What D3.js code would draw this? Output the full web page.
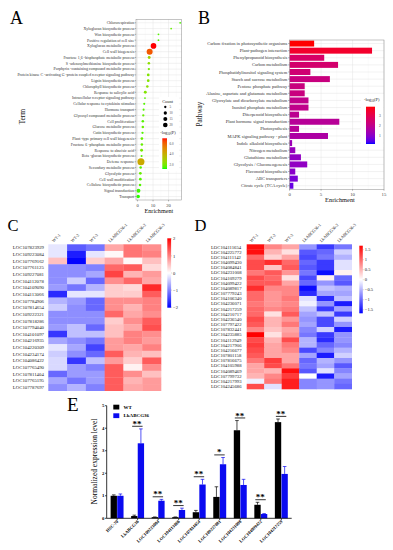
<!DOCTYPE html>
<html>
<head>
<meta charset="utf-8">
<script src="https://cdn.jsdelivr.net/npm/d3@7"></script>
<style>
  body { margin: 0; background: #fff; }
  svg { display: block; font-family: "Liberation Serif", "Times New Roman", serif; }
</style>
</head>
<body>
<svg width="393" height="550"></svg>
<script>
// ---- A: GO enrichment (bubble plot) ----
const goTerms = [
  "Chlororespiration", "Xyloglucan biosynthetic process", "Wax biosynthetic process",
  "Positive regulation of cell size", "Xyloglucan metabolic process", "Cell wall biogenesis",
  "Fructose 1,6 -bisphosphate metabolic process", "S -adenosylmethionine biosynthetic process",
  "Porphyrin -containing compound metabolic process",
  "Protein kinase C -activating G -protein coupled receptor signaling pathway",
  "Lignin biosynthetic process", "Chlorophyll biosynthetic process", "Response to salicylic acid",
  "Intracellular receptor signaling pathway", "Cellular response to cytokinin stimulus",
  "Hormone transport", "Glycosyl compound metabolic process", "Cell proliferation",
  "Glucose metabolic process", "Cutin biosynthetic process", "Plant -type primary cell wall biogenesis",
  "Fructose 6 -phosphate metabolic process", "Response to abscisic acid",
  "Beta -glucan biosynthetic process", "Defense response", "Secondary metabolic process",
  "Glycolytic process", "Cell wall modification", "Cellulose biosynthetic process",
  "Signal transduction", "Transport"
];
const goEnrich = [27.5, 21.7, 13.5, 13.5, 10.3, 7.8, 7.5, 7.3, 7.3, 6.9, 6.9, 6.3, 5.0, 4.8, 4.3, 3.9,
  3.7, 3.4, 3.4, 3.2, 2.8, 2.8, 2.6, 2.6, 2.2, 2.0, 1.8, 1.8, 1.6, 0.6, 0.4];
const goCount = [3, 3, 3, 3, 30, 34, 8, 6, 5, 7, 7, 6, 8, 3, 4, 4, 5, 6, 6, 5, 7, 6, 8, 4, 46, 6, 7, 7, 6, 14, 12];
const goLogP = [1.5, 1.8, 1.6, 1.6, 7.0, 6.2, 2.8, 2.4, 2.0, 2.2, 2.2, 2.4, 2.2, 1.6, 1.6, 1.6, 1.8, 1.6,
  1.8, 1.6, 1.8, 1.8, 2.0, 1.6, 4.2, 1.6, 1.8, 1.6, 1.6, 1.4, 1.3];
const goXTicks = [0, 10, 20];
const goCountBreaks = [5, 10, 15, 20];
const goPBreaks = [6, 4, 2];

// ---- B: KEGG enrichment (bar plot) ----
const keggPaths = [
  "Carbon fixation in photosynthetic organisms", "Plant-pathogen interaction",
  "Phenylpropanoid biosynthesis", "Carbon metabolism", "Phosphatidylinositol signaling system",
  "Starch and sucrose metabolism", "Pentose phosphate pathway",
  "Alanine, aspartate and glutamate metabolism", "Glyoxylate and dicarboxylate metabolism",
  "Inositol phosphate metabolism", "Diterpenoid biosynthesis", "Plant hormone signal transduction",
  "Photosynthesis", "MAPK signaling pathway - plant", "Indole alkaloid biosynthesis",
  "Nitrogen metabolism", "Glutathione metabolism", "Glycolysis / Gluconeogenesis",
  "Flavonoid biosynthesis", "ABC transporters", "Citrate cycle (TCA cycle)"
];
const keggEnrich = [3.9, 13.1, 5.5, 7.7, 3.3, 6.4, 2.4, 2.4, 3.0, 3.0, 1.5, 7.9, 1.5, 6.1, 0.4, 0.9, 1.8, 2.8, 0.9, 1.3, 0.6];
const keggLogP = [3.9, 3.5, 2.6, 2.5, 2.4, 2.2, 2.2, 2.2, 2.0, 2.0, 1.9, 1.8, 1.8, 1.6, 1.3, 1.2, 1.1, 1.1, 1.0, 0.8, 0.6];
const keggXTicks = [0, 5, 10, 15];
const keggPBreaks = [3, 2, 1];

// ---- C / D: heatmaps ----
const sampleNames = ["WT-1", "WT-2", "WT-3", "LkABCG36-1", "LkABCG36-2", "LkABCG36-3"];
const upGenes = ["LOC107823929", "LOC109223084", "LOC107769162", "LOC107761125", "LOC109227081",
  "LOC104112078", "LOC104109090", "LOC104113066", "LOC107784906", "LOC107814654", "LOC109222321",
  "LOC107818286", "LOC107794040", "LOC104101097", "LOC104216935", "LOC104220309", "LOC104234174",
  "LOC104086422", "LOC107765490", "LOC107811404", "LOC107765195", "LOC107787697"];
const upValues = [
  [-0.2, -1.3, -1.1, 0.7, 1.1, 0.9], [-0.2, -1.8, -0.2, 0.05, 1.1, 1.0], [0.5, -2.0, 0.4, 0.7, 0.05, 0.5],
  [-0.9, -0.9, -1.0, 1.2, 1.3, 0.3], [-0.9, -0.9, -0.7, 1.5, 0.6, 0.8], [-0.9, -0.4, -1.2, 0.9, 1.2, 0.7],
  [-0.8, -1.1, -0.6, 0.4, 0.3, 1.7], [-1.7, -0.2, -0.2, 0.4, 0.4, 1.3], [-0.6, -0.8, -1.2, 0.9, 0.9, 1.0],
  [-0.4, -0.9, -1.2, 0.9, 0.6, 1.0], [-0.9, -0.9, -0.9, 1.2, 0.7, 0.9], [-0.9, -0.9, -0.9, 0.4, 0.9, 1.3],
  [-0.8, -0.5, -1.2, 0.5, 0.7, 1.4], [-1.6, -0.5, -0.5, 0.5, 1.0, 0.9], [-0.7, -0.9, -1.1, 0.8, 1.0, 0.8],
  [-0.2, -0.7, -1.5, 0.8, 0.7, 1.0], [-0.4, -0.9, -1.2, 1.3, 0.6, 0.5], [-0.3, -1.6, -0.5, 0.8, 0.4, 1.3],
  [-0.3, -0.8, -1.0, 1.3, 0.1, 0.9], [-1.2, -0.8, -0.8, 1.3, 0.9, 0.5], [-0.7, -1.1, -0.8, 1.3, 0.6, 0.8],
  [-0.9, -0.6, -1.0, 1.3, 0.7, 0.8]
];
const upBreaks = [2, 1, 0, -1, -2];

const downGenes = ["LOC104111654", "LOC104225772", "LOC104111142", "LOC104099430", "LOC104084841",
  "LOC104231008", "LOC104109279", "LOC104099422", "LOC104089817", "LOC107779243", "LOC104106340",
  "LOC104236071", "LOC104217259", "LOC104210717", "LOC104236540", "LOC107797422", "LOC107832441",
  "LOC104235885", "LOC104112949", "LOC104217906", "LOC104216677", "LOC107801158", "LOC107816675",
  "LOC104105988", "LOC104089469", "LOC107799732", "LOC104217993", "LOC104245686"];
const downValues = [
  [1.6, 0.8, 0.6, -0.7, -1.3, -0.9], [1.6, 0.5, 0.2, -1.1, -1.0, -0.3], [1.0, 0.3, 0.6, -1.2, -0.9, -0.5],
  [1.2, 1.4, 1.0, -1.0, -1.3, -0.2], [1.2, 0.4, 1.1, -1.1, -1.3, -0.2], [0.9, 1.1, 0.7, -0.9, -1.6, 0.1],
  [1.2, 1.0, 0.2, -1.2, 0.1, -1.0], [1.1, 1.1, 0.6, -1.0, -0.7, -1.1], [1.4, 0.8, 0.8, -1.6, -0.4, -0.5],
  [1.0, 0.7, 0.8, -1.4, -0.6, -0.6], [1.0, 0.7, 0.9, -0.2, -1.4, -0.4], [0.9, 0.7, 0.8, -0.1, -0.7, -1.5],
  [1.0, 0.8, 0.9, -0.4, -1.3, -0.6], [1.0, 0.2, 1.1, -0.6, -0.4, -1.3], [1.2, 0.5, 0.7, -0.7, -1.2, -0.3],
  [1.1, 0.5, 0.9, -0.6, -1.2, -0.7], [0.8, 0.4, 0.6, -0.8, -0.3, -1.5], [1.7, 0.2, 0.7, -0.9, -1.3, -0.7],
  [1.2, 0.5, 1.2, -0.5, -1.4, -0.7], [1.3, 0.6, 0.9, -0.5, -1.0, -0.8], [1.2, 0.6, 0.8, -1.2, -0.8, -0.5],
  [1.1, 0.6, 0.6, -0.6, -1.5, -0.3], [0.9, 1.3, 0.6, -1.0, -0.5, -0.7], [0.6, 1.2, 0.9, -0.9, -0.6, -1.1],
  [0.6, 0.5, 1.6, -1.1, -0.2, -0.8], [0.5, 0.8, 1.3, 0.0, -1.5, -0.6], [-0.1, 0.9, 1.5, -0.8, -0.7, -0.9],
  [1.2, -0.2, 1.5, -0.8, -0.7, -1.0]
];
const downBreaks = [1.5, 1, 0.5, 0, -0.5, -1, -1.5];

// ---- E: qPCR ----
const qpcrGenes = ["HSC-70", "LkABCG36", "LOC109223084", "LOC104113066", "LOC107814654",
  "LOC109227081", "LOC104231008", "LOC104099422", "LOC104217259"];
const wtMean = [1.0, 0.1, 0.05, 0.05, 0.27, 0.95, 3.91, 0.6, 4.27];
const wtSd = [0.04, 0.04, 0.01, 0.01, 0.08, 0.45, 0.43, 0.11, 0.14];
const lkMean = [1.0, 3.33, 0.78, 0.37, 1.5, 2.4, 1.48, 0.19, 1.97];
const lkSd = [0.08, 0.64, 0.06, 0.08, 0.23, 0.3, 0.25, 0.02, 0.33];
const sigMarks = ["", "**", "**", "**", "**", "*", "**", "**", "**"];
const qpcrYTicks = [0, 1, 2, 3, 4, 5];

const svg = d3.select("svg");
const defs = svg.append("defs");

function panelLabel(t, x, y, size) {
  svg.append("text").attr("x", x).attr("y", y).attr("font-size", size).attr("fill", "#000").text(t);
}
function logPTitle(g, x, y, size) {
  const t = g.append("text").attr("x", x).attr("y", y).attr("font-size", size)
    .attr("text-anchor", "middle").attr("fill", "#222");
  t.append("tspan").text("-log");
  t.append("tspan").attr("font-size", size * 0.7).attr("dy", size * 0.3).text("10");
  t.append("tspan").attr("dy", -size * 0.3).text("(P)");
}
function gradient(id, interp, n) {
  const lg = defs.append("linearGradient").attr("id", id)
    .attr("x1", 0).attr("y1", 1).attr("x2", 0).attr("y2", 0);
  d3.range(n + 1).forEach(i => {
    lg.append("stop").attr("offset", i / n).attr("stop-color", interp(i / n));
  });
}

// ================= Panel A =================
panelLabel("A", 10, 24, 18);
const gA = svg.append("g");
const xA = d3.scaleLinear().domain([-1, 28.5]).range([136, 181.7]);
const yA = d3.scalePoint().domain(goTerms).range([19.3, 200]).padding(0.6);
const rA = d3.scaleSqrt().domain([0, 60]).range([0, 4]);
const colA = d3.scaleSequential(d3.interpolateLab("#00ff00", "#ff0000")).domain([1.2, 7.0]);

gA.append("rect").attr("x", 136).attr("y", 19.3).attr("width", 45.7).attr("height", 180.7).attr("fill", "#fff");
gA.selectAll(".vminor").data([5, 15, 25]).join("line")
  .attr("x1", d => xA(d)).attr("x2", d => xA(d)).attr("y1", 19.3).attr("y2", 200)
  .attr("stroke", "#f0f0f0").attr("stroke-width", 0.3);
gA.selectAll(".vmajor").data(goXTicks).join("line")
  .attr("x1", d => xA(d)).attr("x2", d => xA(d)).attr("y1", 19.3).attr("y2", 200)
  .attr("stroke", "#e3e3e3").attr("stroke-width", 0.45);
gA.selectAll(".hmajor").data(goTerms).join("line")
  .attr("x1", 136).attr("x2", 181.7).attr("y1", d => yA(d)).attr("y2", d => yA(d))
  .attr("stroke", "#e3e3e3").attr("stroke-width", 0.45);

// legend background inside panel
const legA = gA.append("g");
legA.append("rect").attr("x", 159).attr("y", 97).attr("width", 20).attr("height", 74).attr("fill", "#fff");
legA.append("text").attr("x", 167.5).attr("y", 103).attr("font-size", 4.4).attr("text-anchor", "middle")
  .attr("fill", "#222").text("Count");
const cntY = d3.scalePoint().domain(goCountBreaks).range([107, 125]);
legA.selectAll("circle").data(goCountBreaks).join("circle")
  .attr("cx", 165.3).attr("cy", d => cntY(d)).attr("r", d => rA(d)).attr("fill", "#000");
legA.selectAll(".cl").data(goCountBreaks).join("text")
  .attr("x", 169.5).attr("y", d => cntY(d)).attr("dy", "0.35em").attr("font-size", 3.2)
  .attr("fill", "#444").text(d => d);
logPTitle(legA, 168, 133.5, 4.4);
gradient("gradA", t => colA(1.2 + t * 5.8), 20);
const pA = d3.scaleLinear().domain([1.2, 7.0]).range([169, 138.3]);
legA.append("rect").attr("x", 162.3).attr("y", 138.3).attr("width", 4.7).attr("height", 30.7).attr("fill", "url(#gradA)");
legA.selectAll(".pl").data(goPBreaks).join("text")
  .attr("x", 169.5).attr("y", d => pA(d)).attr("dy", "0.35em").attr("font-size", 3.2)
  .attr("fill", "#444").text(d => d.toFixed(1));

// dots
gA.selectAll(".dot").data(goTerms).join("circle")
  .attr("cx", (d, i) => xA(goEnrich[i])).attr("cy", d => yA(d))
  .attr("r", (d, i) => rA(goCount[i])).attr("fill", (d, i) => colA(goLogP[i]));

gA.append("rect").attr("x", 136).attr("y", 19.3).attr("width", 45.7).attr("height", 180.7)
  .attr("fill", "none").attr("stroke", "#8a8a8a").attr("stroke-width", 0.5);
// y axis ticks + labels
gA.selectAll(".yt").data(goTerms).join("line")
  .attr("x1", 134.6).attr("x2", 136).attr("y1", d => yA(d)).attr("y2", d => yA(d))
  .attr("stroke", "#333").attr("stroke-width", 0.35);
gA.selectAll(".yl").data(goTerms).join("text")
  .attr("x", 134.2).attr("y", d => yA(d)).attr("dy", "0.35em").attr("text-anchor", "end")
  .attr("font-size", 3.9).attr("fill", "#333").text(d => d);
gA.selectAll(".xt").data(goXTicks).join("line")
  .attr("x1", d => xA(d)).attr("x2", d => xA(d)).attr("y1", 200).attr("y2", 201.4)
  .attr("stroke", "#333").attr("stroke-width", 0.35);
gA.selectAll(".xl").data(goXTicks).join("text")
  .attr("x", d => xA(d)).attr("y", 206.5).attr("text-anchor", "middle")
  .attr("font-size", 4.6).attr("fill", "#444").text(d => d);
gA.append("text").attr("x", 158.9).attr("y", 212.8).attr("text-anchor", "middle")
  .attr("font-size", 6.2).attr("fill", "#111").text("Enrichment");
gA.append("text").attr("transform", "translate(24.5,116.7) rotate(-90)").attr("text-anchor", "middle")
  .attr("font-size", 7.5).attr("fill", "#111").text("Term");

// ================= Panel B =================
panelLabel("B", 198, 24, 18);
const gB = svg.append("g");
const xB = d3.scaleLinear().domain([0, 15]).range([289.6, 384]);
const yB = d3.scaleBand().domain(keggPaths).range([40, 189.3]).paddingInner(0.16).paddingOuter(0.08);
const colB = d3.scaleSequential(d3.interpolateLab("#0000ff", "#ff0000")).domain([0.17, 3.9]);

gB.append("rect").attr("x", 289.6).attr("y", 40).attr("width", 94.4).attr("height", 149.3).attr("fill", "#fff");
gB.selectAll(".vminor").data([2.5, 7.5, 12.5]).join("line")
  .attr("x1", d => xB(d)).attr("x2", d => xB(d)).attr("y1", 40).attr("y2", 189.3)
  .attr("stroke", "#f0f0f0").attr("stroke-width", 0.3);
gB.selectAll(".vmajor").data(keggXTicks).join("line")
  .attr("x1", d => xB(d)).attr("x2", d => xB(d)).attr("y1", 40).attr("y2", 189.3)
  .attr("stroke", "#e3e3e3").attr("stroke-width", 0.45);
gB.selectAll(".hmajor").data(keggPaths).join("line")
  .attr("x1", 289.6).attr("x2", 384).attr("y1", d => yB(d) + yB.bandwidth() / 2).attr("y2", d => yB(d) + yB.bandwidth() / 2)
  .attr("stroke", "#e3e3e3").attr("stroke-width", 0.45);
gB.selectAll(".bar").data(keggPaths).join("rect")
  .attr("x", xB(0)).attr("y", d => yB(d))
  .attr("width", (d, i) => xB(keggEnrich[i]) - xB(0)).attr("height", yB.bandwidth())
  .attr("fill", (d, i) => colB(keggLogP[i]));

const legB = gB.append("g");
legB.append("rect").attr("x", 361).attr("y", 94).attr("width", 22.5).attr("height", 53).attr("fill", "#fff");
logPTitle(legB, 371.7, 101, 4.4);
gradient("gradB", t => colB(0.17 + t * 3.73), 20);
const pB = d3.scaleLinear().domain([0.17, 3.9]).range([144, 106.7]);
legB.append("rect").attr("x", 366).attr("y", 106.7).attr("width", 9).attr("height", 37.3).attr("fill", "url(#gradB)");
legB.selectAll(".pl").data(keggPBreaks).join("text")
  .attr("x", 379).attr("y", d => pB(d)).attr("dy", "0.35em").attr("font-size", 3.6)
  .attr("fill", "#444").text(d => d);

gB.append("rect").attr("x", 289.6).attr("y", 40).attr("width", 94.4).attr("height", 149.3)
  .attr("fill", "none").attr("stroke", "#8a8a8a").attr("stroke-width", 0.5);
gB.selectAll(".yt").data(keggPaths).join("line")
  .attr("x1", 288).attr("x2", 289.6).attr("y1", d => yB(d) + yB.bandwidth() / 2).attr("y2", d => yB(d) + yB.bandwidth() / 2)
  .attr("stroke", "#333").attr("stroke-width", 0.35);
gB.selectAll(".yl").data(keggPaths).join("text")
  .attr("x", 287.3).attr("y", d => yB(d) + yB.bandwidth() / 2).attr("dy", "0.35em").attr("text-anchor", "end")
  .attr("font-size", 4.5).attr("fill", "#333").text(d => d);
gB.selectAll(".xt").data(keggXTicks).join("line")
  .attr("x1", d => xB(d)).attr("x2", d => xB(d)).attr("y1", 189.3).attr("y2", 190.7)
  .attr("stroke", "#333").attr("stroke-width", 0.35);
gB.selectAll(".xl").data(keggXTicks).join("text")
  .attr("x", d => xB(d)).attr("y", 195.6).attr("text-anchor", "middle")
  .attr("font-size", 4.8).attr("fill", "#444").text(d => d);
gB.append("text").attr("x", 340).attr("y", 202).attr("text-anchor", "middle")
  .attr("font-size", 6.4).attr("fill", "#111").text("Enrichment");
gB.append("text").attr("transform", "translate(201.5,114) rotate(-90)").attr("text-anchor", "middle")
  .attr("font-size", 7.2).attr("fill", "#111").text("Pathway");

// ================= Heatmaps C / D =================
function heatmap(opt) {
  const g = svg.append("g");
  const x = d3.scaleBand().domain(sampleNames).range([opt.x0, opt.x1]);
  const y = d3.scaleBand().domain(opt.genes).range([opt.y0, opt.y1]);
  const col = d3.scaleLinear().domain([opt.lo, 0, opt.hi]).range(["#0000ff", "#ffffff", "#ff0000"]).clamp(true);
  opt.genes.forEach((gene, r) => {
    g.selectAll(null).data(sampleNames).join("rect")
      .attr("x", d => x(d)).attr("y", y(gene))
      .attr("width", x.bandwidth() + 0.3).attr("height", y.bandwidth() + 0.3)
      .attr("fill", (d, c) => col(opt.values[r][c]));
  });
  g.selectAll(".rl").data(opt.genes).join("text")
    .attr("x", opt.labelX).attr("y", d => y(d) + y.bandwidth() / 2).attr("dy", "0.35em")
    .attr("font-size", opt.rowFont).attr("fill", "#222").text(d => d);
  g.selectAll(".cl").data(sampleNames).join("text")
    .attr("transform", d => `translate(${x(d) + x.bandwidth() / 2 - 4},${opt.y0 - 1.8}) rotate(-45)`)
    .attr("font-size", 4.3).attr("fill", "#222").text(d => d);
  // colour key
  const ky = d3.scaleLinear().domain([opt.lo, opt.hi]).range([opt.ky1, opt.ky0]);
  const id = "grad" + opt.id;
  gradient(id, t => col(opt.lo + t * (opt.hi - opt.lo)), 20);
  g.append("rect").attr("x", opt.kx).attr("y", opt.ky0).attr("width", opt.kw).attr("height", opt.ky1 - opt.ky0)
    .attr("fill", `url(#${id})`);
  g.selectAll(".kl").data(opt.breaks).join("text")
    .attr("x", opt.kx + opt.kw + 2).attr("y", d => ky(d)).attr("dy", "0.35em")
    .attr("font-size", 4.6).attr("fill", "#222").text(d => d < 0 ? "\u2212" + Math.abs(d) : d);
  g.selectAll(".kt").data(opt.breaks).join("line")
    .attr("x1", opt.kx + opt.kw).attr("x2", opt.kx + opt.kw + 0.8).attr("y1", d => ky(d)).attr("y2", d => ky(d))
    .attr("stroke", "#555").attr("stroke-width", 0.3);
}

panelLabel("C", 7.5, 231, 16.5);
heatmap({ id: "C", genes: upGenes, values: upValues, x0: 48.3, x1: 161, y0: 244.3, y1: 390.7,
  lo: -2.03, hi: 2.03, labelX: 12.8, rowFont: 4.8, kx: 167.3, kw: 3.8, ky0: 238.3, ky1: 307.7, breaks: upBreaks });

panelLabel("D", 194.5, 231, 16.5);
heatmap({ id: "D", genes: downGenes, values: downValues, x0: 246.7, x1: 351.7, y0: 244.3, y1: 389,
  lo: -1.68, hi: 1.7, labelX: 211, rowFont: 4.7, kx: 359.3, kw: 3.5, ky0: 245.7, ky1: 313.3, breaks: downBreaks });

// ================= Panel E =================
panelLabel("E", 67, 410.7, 19);
const gE = svg.append("g");
const xE = d3.scaleBand().domain(qpcrGenes).range([106.7, 291.7]).paddingInner(0.37).paddingOuter(0.19);
const xSub = d3.scaleBand().domain(["WT", "LK"]).range([0, xE.bandwidth()]).paddingInner(0.04);
const yE = d3.scaleLinear().domain([0, 5]).range([518.3, 405.7]);

const series = [
  { key: "WT", mean: wtMean, sd: wtSd, color: "#000000" },
  { key: "LK", mean: lkMean, sd: lkSd, color: "#0a0af0" }
];
series.forEach(s => {
  gE.selectAll(null).data(qpcrGenes).join("rect")
    .attr("x", d => xE(d) + xSub(s.key)).attr("width", xSub.bandwidth())
    .attr("y", (d, i) => yE(s.mean[i])).attr("height", (d, i) => yE(0) - yE(s.mean[i]))
    .attr("fill", s.color);
  // error bars (upper only)
  gE.selectAll(null).data(qpcrGenes).join("line")
    .attr("x1", d => xE(d) + xSub(s.key) + xSub.bandwidth() / 2)
    .attr("x2", d => xE(d) + xSub(s.key) + xSub.bandwidth() / 2)
    .attr("y1", (d, i) => yE(s.mean[i])).attr("y2", (d, i) => yE(s.mean[i] + s.sd[i]))
    .attr("stroke", s.color).attr("stroke-width", 0.7);
  gE.selectAll(null).data(qpcrGenes).join("line")
    .attr("x1", d => xE(d) + xSub(s.key) + xSub.bandwidth() / 2 - 1.8)
    .attr("x2", d => xE(d) + xSub(s.key) + xSub.bandwidth() / 2 + 1.8)
    .attr("y1", (d, i) => yE(s.mean[i] + s.sd[i])).attr("y2", (d, i) => yE(s.mean[i] + s.sd[i]))
    .attr("stroke", s.color).attr("stroke-width", 0.7);
});

// significance brackets
qpcrGenes.forEach((gname, i) => {
  if (!sigMarks[i]) return;
  const top = Math.max(wtMean[i] + wtSd[i], lkMean[i] + lkSd[i]);
  const ly = yE(top) - 2.6;
  gE.append("line").attr("x1", xE(gname) + 1).attr("x2", xE(gname) + xE.bandwidth() - 1.5)
    .attr("y1", ly).attr("y2", ly).attr("stroke", "#000").attr("stroke-width", 0.8);
  gE.append("text").attr("x", xE(gname) + xE.bandwidth() / 2 - 0.5).attr("y", ly + 0.6)
    .attr("text-anchor", "middle").attr("font-size", 9).attr("font-weight", "bold").text(sigMarks[i]);
});

// axes
gE.append("line").attr("x1", 106.7).attr("x2", 106.7).attr("y1", yE(5)).attr("y2", yE(0))
  .attr("stroke", "#000").attr("stroke-width", 0.8);
gE.append("line").attr("x1", 106.7).attr("x2", 291.7).attr("y1", yE(0)).attr("y2", yE(0))
  .attr("stroke", "#000").attr("stroke-width", 0.8);
gE.selectAll(".yt").data(qpcrYTicks).join("line")
  .attr("x1", 105).attr("x2", 106.7).attr("y1", d => yE(d)).attr("y2", d => yE(d))
  .attr("stroke", "#000").attr("stroke-width", 0.7);
gE.selectAll(".yl").data(qpcrYTicks).join("text")
  .attr("x", 104.4).attr("y", d => yE(d)).attr("dy", "0.35em").attr("text-anchor", "end")
  .attr("font-size", 4.8).attr("font-weight", "bold").text(d => d);
gE.selectAll(".xt").data(qpcrGenes).join("line")
  .attr("x1", d => xE(d) + xE.bandwidth() / 2).attr("x2", d => xE(d) + xE.bandwidth() / 2)
  .attr("y1", yE(0)).attr("y2", yE(0) + 1.8).attr("stroke", "#000").attr("stroke-width", 0.7);
gE.selectAll(".xl").data(qpcrGenes).join("text")
  .attr("transform", d => `translate(${xE(d) + xE.bandwidth() / 2 + 1.5},${yE(0) + 3.5}) rotate(-45)`)
  .attr("text-anchor", "end").attr("font-size", 4.5).attr("font-weight", "bold").text(d => d);
gE.append("text").attr("transform", "translate(96.5,461.5) rotate(-90)").attr("text-anchor", "middle")
  .attr("font-size", 7.5).text("Normalized expression level");

// legend
const legE = [{ label: "WT", color: "#000000", y: 404.7 }, { label: "LkABCG36", color: "#0a0af0", y: 413.3 }];
gE.selectAll(".lr").data(legE).join("rect")
  .attr("x", 113.3).attr("y", d => d.y).attr("width", 6).attr("height", 4.8).attr("fill", d => d.color);
gE.selectAll(".lt").data(legE).join("text")
  .attr("x", 123.5).attr("y", d => d.y + 2.4).attr("dy", "0.35em")
  .attr("font-size", 5).attr("font-weight", "bold").text(d => d.label);
</script>
</body>
</html>
